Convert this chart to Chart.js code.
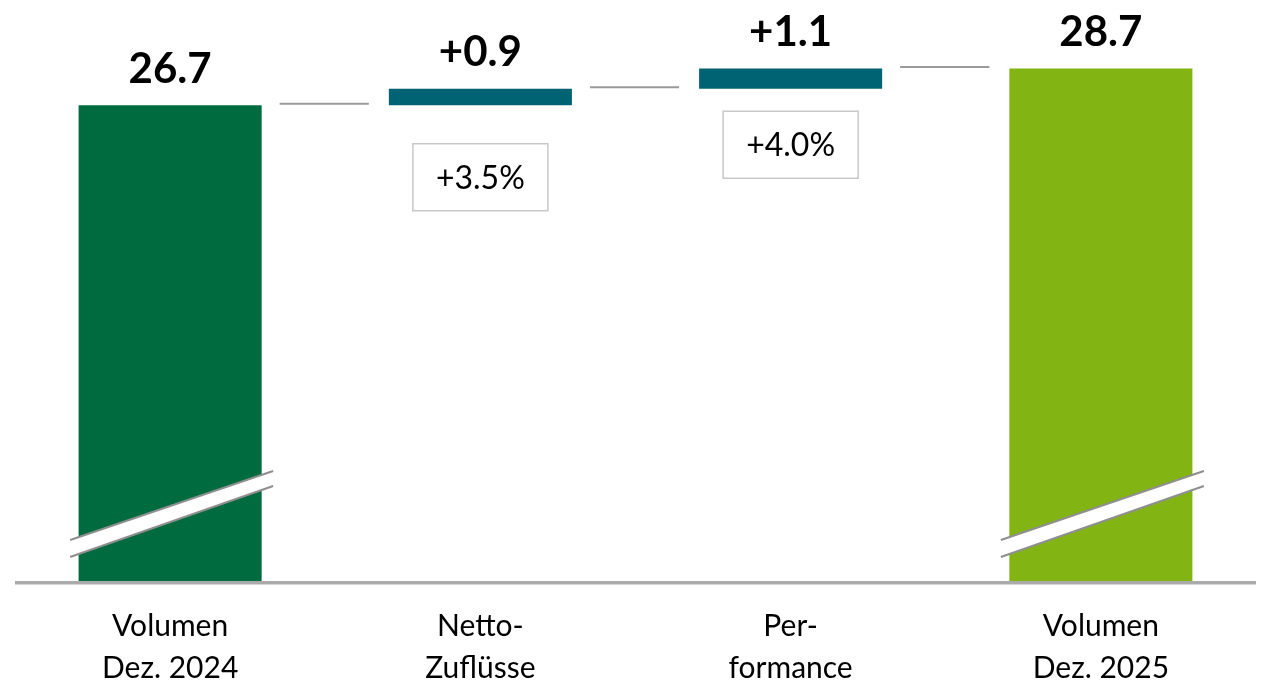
<!DOCTYPE html>
<html>
<head>
<meta charset="utf-8">
<script src="https://cdn.jsdelivr.net/npm/chart.js@4.4.1/dist/chart.umd.min.js"></script>
<style>
  html, body { margin: 0; padding: 0; background: #fff; overflow: hidden; }
  canvas { display: block; }
</style>
</head>
<body>
<canvas id="wasserfall" width="1264" height="715"></canvas>
<script>
// Daten aus dem Bild
const kategorien = [["Volumen", "Dez. 2024"], ["Netto-", "Zuflüsse"], ["Per-", "formance"], ["Volumen", "Dez. 2025"]];
const werte = [26.7, 0.9, 1.1, 28.7];
const balkenTyp = ["summe", "delta", "delta", "summe"];
const wertLabels = ["26.7", "+0.9", "+1.1", "28.7"];
const prozentLabels = ["", "+3.5%", "+4.0%", ""];
const achsenBruch = 0.7; // unterbrochene Achse: sichtbarer Startwert

const farben = ["#006B3F", "#006373", "#006373", "#82B414"];
const schrift = "Lato, 'Noto Sans', sans-serif";

// schwebende Balken fuer den Wasserfall
let laufend = 0;
const balkenDaten = werte.map((w, i) => {
  if (balkenTyp[i] === "summe") {
    laufend = w;
    return [achsenBruch, w];
  }
  const start = laufend;
  laufend = laufend + w;
  return [start, laufend];
});

const wasserfallPlugin = {
  id: "wasserfall",
  afterDatasetsDraw(chart, args, opts) {
    const c = chart.ctx;
    const meta = chart.getDatasetMeta(0);
    const y = chart.scales.y;
    const area = chart.chartArea;

    // Achsenbruch in den Summenbalken
    meta.data.forEach((bar, i) => {
      if (balkenTyp[i] !== "summe") return;
      const x1 = bar.x - 100, x2 = bar.x + 103;
      const b = area.bottom;
      c.save();
      c.beginPath();
      c.moveTo(x1, b - 41);
      c.lineTo(x2, b - 110);
      c.lineTo(x2, b - 95);
      c.lineTo(x1, b - 24);
      c.closePath();
      c.fillStyle = "#ffffff";
      c.fill();
      c.strokeStyle = "#8f8f8f";
      c.lineWidth = 2;
      c.beginPath();
      c.moveTo(x1, b - 41); c.lineTo(x2, b - 110);
      c.moveTo(x1, b - 24); c.lineTo(x2, b - 95);
      c.stroke();
      c.restore();
    });

    // Grundlinie
    c.save();
    c.strokeStyle = "#ABABAB";
    c.lineWidth = 3.5;
    c.beginPath();
    c.moveTo(area.left, area.bottom + 1.75);
    c.lineTo(area.right, area.bottom + 1.75);
    c.stroke();
    c.restore();

    // Verbindungslinien
    c.save();
    c.strokeStyle = "#9A9A9A";
    c.lineWidth = 2;
    for (let i = 0; i < meta.data.length - 1; i++) {
      const a = meta.data[i], n = meta.data[i + 1];
      const yy = y.getPixelForValue(balkenDaten[i][1]) - 1.5;
      c.beginPath();
      c.moveTo(a.x + a.width / 2 + 18, yy);
      c.lineTo(n.x - n.width / 2 - 20, yy);
      c.stroke();
    }
    c.restore();

    // Wertbeschriftungen
    c.save();
    c.fillStyle = "#000";
    c.textAlign = "center";
    c.textBaseline = "middle";
    c.font = "bold 42px " + schrift;
    meta.data.forEach((bar, i) => {
      const top = y.getPixelForValue(balkenDaten[i][1]);
      c.fillText(wertLabels[i], bar.x, top - 36);
    });
    c.restore();

    // Prozentboxen
    c.save();
    c.font = "32px " + schrift;
    c.textAlign = "center";
    c.textBaseline = "middle";
    meta.data.forEach((bar, i) => {
      if (!prozentLabels[i]) return;
      const unten = y.getPixelForValue(balkenDaten[i][0]);
      const cy = unten + opts.boxAbstand[i];
      const w = 135, h = 67;
      c.fillStyle = "#fff";
      c.fillRect(bar.x - w / 2, cy - h / 2, w, h);
      c.strokeStyle = "#C8C8C8";
      c.lineWidth = 1.5;
      c.strokeRect(bar.x - w / 2, cy - h / 2, w, h);
      c.fillStyle = "#000";
      c.fillText(prozentLabels[i], bar.x, cy + 1);
    });
    c.restore();
  }
};

new Chart(document.getElementById("wasserfall"), {
  type: "bar",
  data: {
    labels: kategorien,
    datasets: [{
      data: balkenDaten,
      backgroundColor: farben,
      borderWidth: 0,
      categoryPercentage: 1,
      barPercentage: 0.59
    }]
  },
  options: {
    responsive: false,
    animation: false,
    layout: { padding: { left: 15, right: 8, top: 0, bottom: 2 } },
    plugins: {
      legend: { display: false },
      tooltip: { enabled: false },
      wasserfall: { boxAbstand: [0, 72, 56, 0] }
    },
    scales: {
      x: {
        grid: { display: false, drawTicks: false },
        border: { display: false },
        ticks: {
          color: "#000",
          padding: 24,
          font: { family: schrift, size: 30, lineHeight: 1.4 },
          maxRotation: 0
        }
      },
      y: {
        display: false,
        min: achsenBruch,
        max: 32.45
      }
    }
  },
  plugins: [wasserfallPlugin]
});
</script>
</body>
</html>
